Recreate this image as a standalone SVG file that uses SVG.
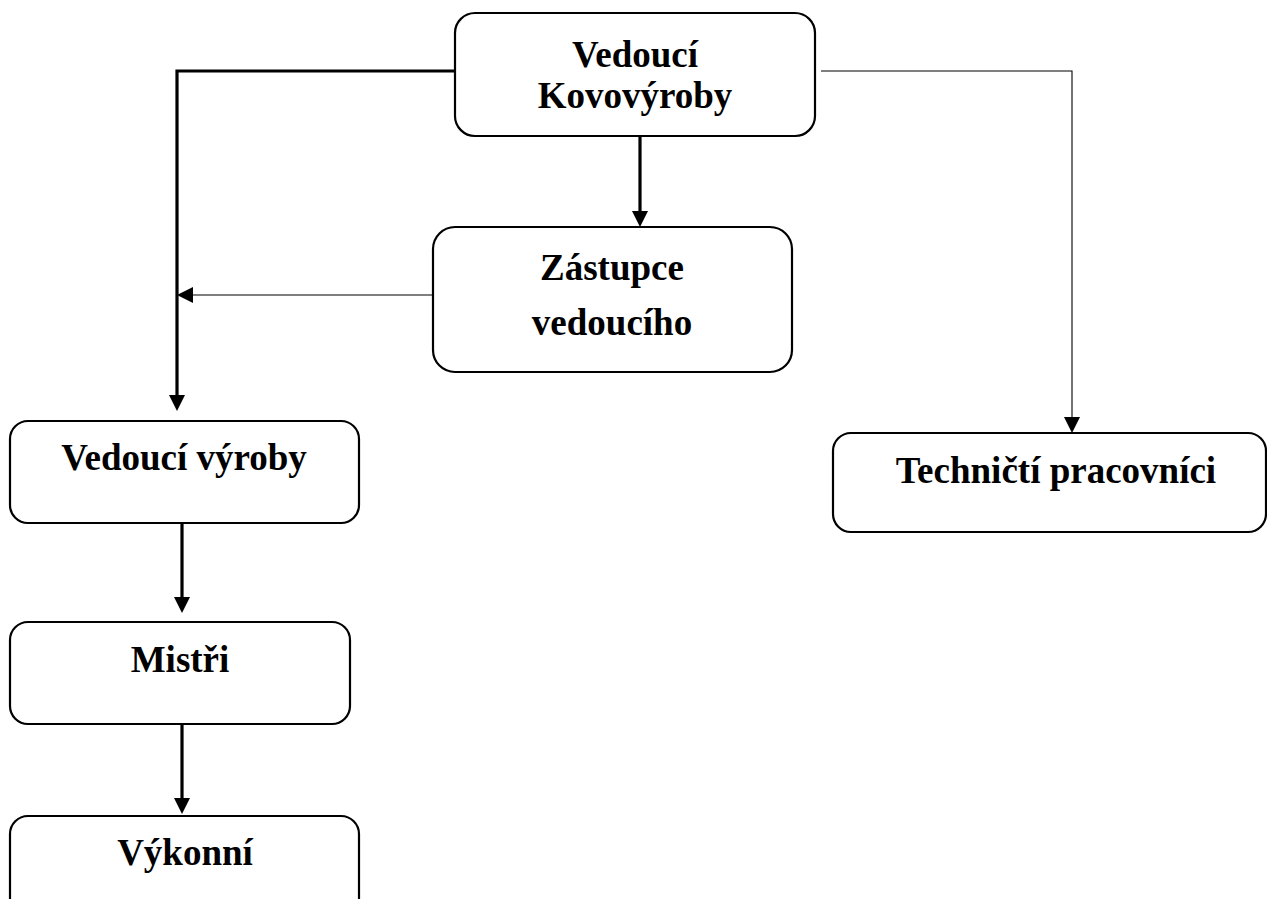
<svg xmlns="http://www.w3.org/2000/svg" width="1267" height="899" viewBox="0 0 1267 899">
<style>
.box{fill:#fff;stroke:#000;stroke-width:2.2}
.t{font-family:"Liberation Serif","Times New Roman",serif;font-weight:bold;font-size:37px;text-anchor:middle;fill:#000}
.thick{fill:none;stroke:#000;stroke-width:3.2}
.thin{fill:none;stroke:#000;stroke-width:1.1}
.head{fill:#000;stroke:none}
</style>
<rect width="1267" height="899" fill="#fff"/>
<g id="connectors">
<path class="thick" d="M455 71 H177 V396"/>
<polygon class="head" points="169,395 185,395 177,411"/>
<path class="thick" d="M640 136 V212"/>
<polygon class="head" points="632,211 648,211 640,227"/>
<path class="thin" d="M433 295 H192"/>
<polygon class="head" points="193,287 193,303 177,295"/>
<path class="thin" d="M821 71 H1072 V418"/>
<polygon class="head" points="1064,417 1080,417 1072,433"/>
<path class="thick" d="M182 523 V598"/>
<polygon class="head" points="174,597 190,597 182,613"/>
<path class="thick" d="M182 724 V799"/>
<polygon class="head" points="174,798 190,798 182,814"/>
</g>
<g id="n-vedouci-kovovyroby">
<rect class="box" x="455" y="13" width="360" height="123" rx="20"/>
<text class="t" x="635" y="67">Vedoucí</text>
<text class="t" x="635" y="108">Kovovýroby</text>
</g>
<g id="n-zastupce">
<rect class="box" x="433" y="227" width="359" height="145" rx="22"/>
<text class="t" x="612" y="280">Zástupce</text>
<text class="t" x="612" y="335">vedoucího</text>
</g>
<g id="n-technicti">
<rect class="box" x="833" y="433" width="433" height="99" rx="18"/>
<text class="t" x="1056" y="483">Techničtí pracovníci</text>
</g>
<g id="n-vedouci-vyroby">
<rect class="box" x="10" y="421" width="349" height="102" rx="18"/>
<text class="t" x="184" y="470">Vedoucí výroby</text>
</g>
<g id="n-mistri">
<rect class="box" x="10" y="622" width="340" height="102" rx="18"/>
<text class="t" x="180" y="672">Mistři</text>
</g>
<g id="n-vykonni">
<rect class="box" x="10" y="816" width="349" height="102" rx="18"/>
<text class="t" x="185" y="865">Výkonní</text>
</g>
</svg>
